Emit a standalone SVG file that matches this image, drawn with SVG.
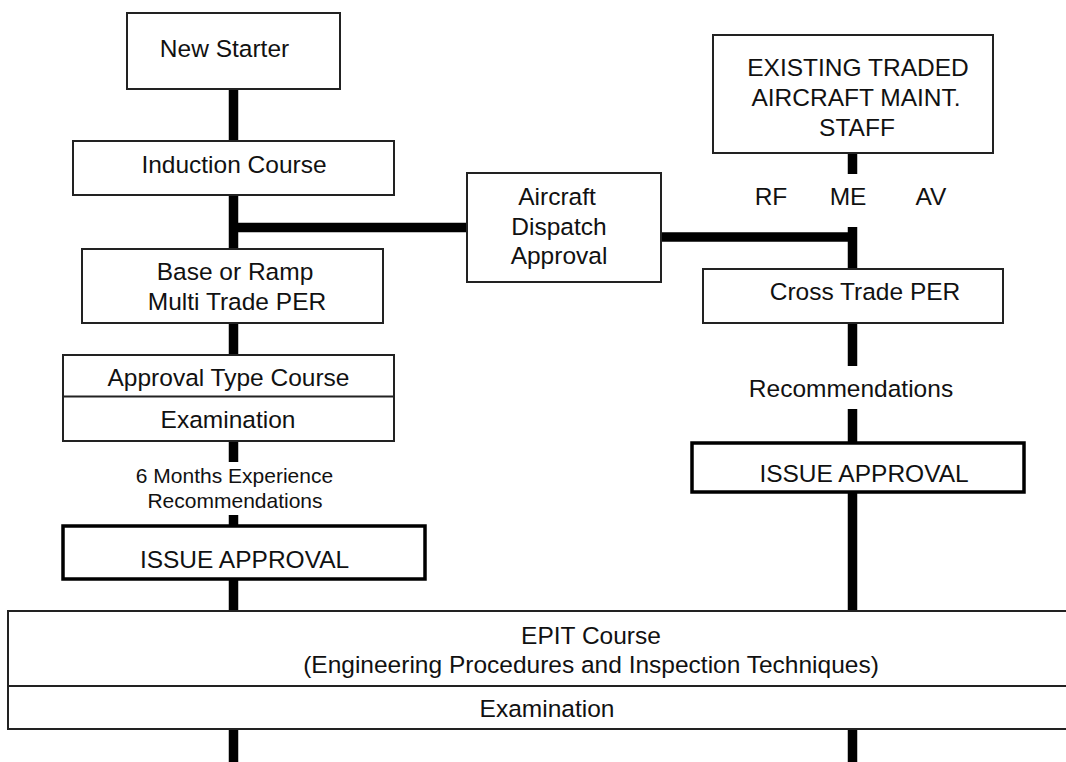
<svg xmlns="http://www.w3.org/2000/svg" width="1066" height="762" viewBox="0 0 1066 762">
<style>
.box{fill:#fff;stroke:#222;stroke-width:2}
.thick{fill:#fff;stroke:#000;stroke-width:3.5}
.div{stroke:#222;stroke-width:2}
.t{font-family:"Liberation Sans",Arial,sans-serif;font-size:24.5px;fill:#111;text-anchor:middle}
.s{font-size:21px}
.c{stroke:#000;stroke-width:9.5;fill:none}
</style>
<rect width="1066" height="762" fill="#fff"/>
<g id="connectors">
<line class="c" x1="233.5" y1="89" x2="233.5" y2="141"/>
<line class="c" x1="233.5" y1="195" x2="233.5" y2="249"/>
<line class="c" x1="229" y1="227.5" x2="467" y2="227.5"/>
<line class="c" x1="233.5" y1="323" x2="233.5" y2="355"/>
<line class="c" x1="233.5" y1="441" x2="233.5" y2="462"/>
<line class="c" x1="233.5" y1="515" x2="233.5" y2="526"/>
<line class="c" x1="233.5" y1="579" x2="233.5" y2="611"/>
<line class="c" x1="233.5" y1="729" x2="233.5" y2="762"/>
<line class="c" x1="852.5" y1="153" x2="852.5" y2="174"/>
<line class="c" x1="852.5" y1="227" x2="852.5" y2="269"/>
<line class="c" x1="661" y1="237" x2="857" y2="237"/>
<line class="c" x1="852.5" y1="323" x2="852.5" y2="366"/>
<line class="c" x1="852.5" y1="409" x2="852.5" y2="443"/>
<line class="c" x1="852.5" y1="492" x2="852.5" y2="611"/>
<line class="c" x1="852.5" y1="729" x2="852.5" y2="762"/>
</g>
<g id="new-starter">
<rect class="box" x="127" y="13" width="213" height="76"/>
<text class="t" x="224.5" y="57">New Starter</text>
</g>
<g id="induction-course">
<rect class="box" x="73" y="141" width="321" height="54"/>
<text class="t" x="234" y="173">Induction Course</text>
</g>
<g id="base-ramp-per">
<rect class="box" x="82" y="249" width="301" height="74"/>
<text class="t" x="235" y="280">Base or Ramp</text>
<text class="t" x="237" y="310">Multi Trade PER</text>
</g>
<g id="approval-type-course">
<rect class="box" x="63" y="355" width="331" height="86"/>
<line class="div" x1="63" y1="396.5" x2="394" y2="396.5"/>
<text class="t" x="228.5" y="386">Approval Type Course</text>
<text class="t" x="228" y="428">Examination</text>
</g>
<g id="experience-label">
<text class="t s" x="234.5" y="483">6  Months Experience</text>
<text class="t s" x="235" y="508">Recommendations</text>
</g>
<g id="issue-approval-left">
<rect class="thick" x="63" y="526" width="362" height="53"/>
<text class="t" x="244.5" y="568">ISSUE APPROVAL</text>
</g>
<g id="aircraft-dispatch">
<rect class="box" x="467" y="173" width="194" height="109"/>
<text class="t" x="557" y="205">Aircraft</text>
<text class="t" x="559" y="235">Dispatch</text>
<text class="t" x="559" y="264">Approval</text>
</g>
<g id="existing-staff">
<rect class="box" x="713" y="35" width="280" height="118"/>
<text class="t" x="858" y="76">EXISTING TRADED</text>
<text class="t" x="856" y="106">AIRCRAFT MAINT.</text>
<text class="t" x="857" y="136">STAFF</text>
</g>
<g id="trades">
<text class="t" x="771" y="205">RF</text>
<text class="t" x="848" y="205">ME</text>
<text class="t" x="931" y="205">AV</text>
</g>
<g id="cross-trade-per">
<rect class="box" x="703" y="269" width="300" height="54"/>
<text class="t" x="865" y="300">Cross Trade PER</text>
</g>
<g id="recommendations-right">
<text class="t" x="851" y="397">Recommendations</text>
</g>
<g id="issue-approval-right">
<rect class="thick" x="692" y="443" width="332" height="49"/>
<text class="t" x="864" y="482">ISSUE APPROVAL</text>
</g>
<g id="epit-course">
<rect class="box" x="8" y="611" width="1170" height="118"/>
<line class="div" x1="8" y1="686" x2="1066" y2="686"/>
<text class="t" x="591" y="644">EPIT Course</text>
<text class="t" x="591" y="673">(Engineering Procedures and Inspection Techniques)</text>
<text class="t" x="547" y="717">Examination</text>
</g>
</svg>
